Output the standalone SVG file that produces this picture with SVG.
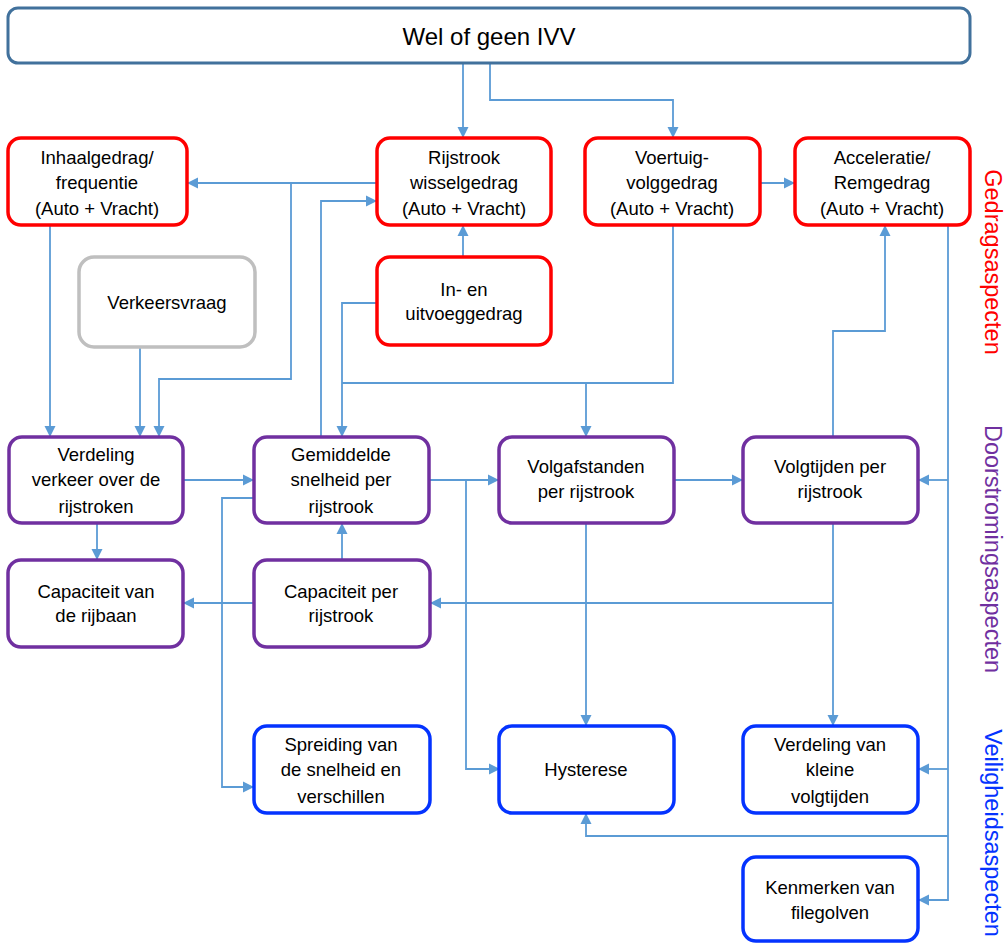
<svg xmlns="http://www.w3.org/2000/svg" width="1005" height="943" viewBox="0 0 1005 943">
<style>
.box{fill:#fff;stroke-width:3.5}
.red{stroke:#FF0000}
.pur{stroke:#7030A0}
.blu{stroke:#0433FF}
.gry{stroke:#BFBFBF}
.top{stroke:#41719C;stroke-width:3}
text{font-family:"Liberation Sans",Arial,sans-serif;font-size:18.5px;fill:#000;text-anchor:middle}
.t{font-size:24px}
.side{font-size:23.5px}
.con path{fill:none;stroke:#5B9BD5;stroke-width:1.8}
</style>
<defs>
<marker id="a" markerUnits="userSpaceOnUse" markerWidth="12" markerHeight="12" refX="11" refY="6" orient="auto">
<path d="M0,0.5 L11,6 L0,11.5 z" fill="#5B9BD5"/>
</marker>
</defs>
<rect width="1005" height="943" fill="#fff"/>

<g class="con">
<path d="M463,63 V138" marker-end="url(#a)"/>
<path d="M490,63 V100 H673 V138" marker-end="url(#a)"/>
<path d="M377,183 H187" marker-end="url(#a)"/>
<path d="M291,183 V379 H159 V437" marker-end="url(#a)"/>
<path d="M321,437 V201 H377" marker-end="url(#a)"/>
<path d="M463,257 V225" marker-end="url(#a)"/>
<path d="M377,303 H342 V437" marker-end="url(#a)"/>
<path d="M673,225 V383 H342"/>
<path d="M586,383 V437" marker-end="url(#a)"/>
<path d="M760,183 H795" marker-end="url(#a)"/>
<path d="M833,437 V331 H885 V225" marker-end="url(#a)"/>
<path d="M50,225 V437" marker-end="url(#a)"/>
<path d="M140,347 V437" marker-end="url(#a)"/>
<path d="M183,480 H254" marker-end="url(#a)"/>
<path d="M429,480 H499" marker-end="url(#a)"/>
<path d="M466,480 V769 H500" marker-end="url(#a)"/>
<path d="M254,498 H222 V787 H254" marker-end="url(#a)"/>
<path d="M674,480 H743" marker-end="url(#a)"/>
<path d="M948,225 V900 H918" marker-end="url(#a)"/>
<path d="M948,480 H918" marker-end="url(#a)"/>
<path d="M948,769 H918" marker-end="url(#a)"/>
<path d="M948,836 H586 V813" marker-end="url(#a)"/>
<path d="M586,523 V726" marker-end="url(#a)"/>
<path d="M833,523 V726" marker-end="url(#a)"/>
<path d="M833,603 H430" marker-end="url(#a)"/>
<path d="M342,560 V523" marker-end="url(#a)"/>
<path d="M254,603 H183" marker-end="url(#a)"/>
<path d="M97,523 V560" marker-end="url(#a)"/>
</g>

<g id="ivv"><rect class="box top" x="8" y="8" width="962" height="55" rx="10"/><text class="t" x="489" y="45">Wel of geen IVV</text></g>

<g id="inhaal"><rect class="box red" x="8" y="138" width="179" height="87" rx="13"/><text x="97" y="164">Inhaalgedrag/</text><text x="97" y="189">frequentie</text><text x="97" y="215">(Auto + Vracht)</text></g>
<g id="rijstrook"><rect class="box red" x="377" y="138" width="174" height="87" rx="13"/><text x="464" y="164">Rijstrook</text><text x="464" y="189">wisselgedrag</text><text x="464" y="215">(Auto + Vracht)</text></g>
<g id="voertuig"><rect class="box red" x="585" y="138" width="175" height="87" rx="13"/><text x="672" y="164">Voertuig-</text><text x="672" y="189">volggedrag</text><text x="672" y="215">(Auto + Vracht)</text></g>
<g id="accel"><rect class="box red" x="795" y="138" width="175" height="87" rx="13"/><text x="882" y="164">Acceleratie/</text><text x="882" y="189">Remgedrag</text><text x="882" y="215">(Auto + Vracht)</text></g>

<g id="verkeersvraag"><rect class="box gry" x="79" y="257" width="176" height="90" rx="15"/><text x="167" y="309">Verkeersvraag</text></g>
<g id="inuit"><rect class="box red" x="377" y="257" width="174" height="88" rx="13"/><text x="464" y="296">In- en</text><text x="464" y="320">uitvoeggedrag</text></g>

<g id="verdeling"><rect class="box pur" x="9" y="437" width="174" height="86" rx="13"/><text x="96" y="461">Verdeling</text><text x="96" y="486">verkeer  over de</text><text x="96" y="513">rijstroken</text></g>
<g id="gemiddelde"><rect class="box pur" x="254" y="437" width="175" height="86" rx="13"/><text x="341" y="461">Gemiddelde</text><text x="341" y="486">snelheid per</text><text x="341" y="513">rijstrook</text></g>
<g id="volgafstanden"><rect class="box pur" x="499" y="437" width="175" height="86" rx="13"/><text x="586" y="473">Volgafstanden</text><text x="586" y="498">per rijstrook</text></g>
<g id="volgtijden"><rect class="box pur" x="743" y="437" width="175" height="86" rx="13"/><text x="830" y="473">Volgtijden per</text><text x="830" y="498">rijstrook</text></g>

<g id="caprijbaan"><rect class="box pur" x="8" y="560" width="175" height="87" rx="13"/><text x="96" y="598">Capaciteit van</text><text x="96" y="622">de rijbaan</text></g>
<g id="capstrook"><rect class="box pur" x="254" y="560" width="176" height="87" rx="13"/><text x="341" y="598">Capaciteit per</text><text x="341" y="622">rijstrook</text></g>

<g id="spreiding"><rect class="box blu" x="254" y="726" width="176" height="87" rx="13"/><text x="341" y="751">Spreiding van</text><text x="341" y="776">de snelheid en</text><text x="341" y="803">verschillen</text></g>
<g id="hysterese"><rect class="box blu" x="499" y="726" width="175" height="87" rx="13"/><text x="586" y="776">Hysterese</text></g>
<g id="kleine"><rect class="box blu" x="743" y="726" width="175" height="87" rx="13"/><text x="830" y="751">Verdeling van</text><text x="830" y="776">kleine</text><text x="830" y="803">volgtijden</text></g>
<g id="kenmerken"><rect class="box blu" x="743" y="857" width="175" height="84" rx="13"/><text x="830" y="894">Kenmerken van</text><text x="830" y="919">filegolven</text></g>

<g id="labels">
<text class="side" style="fill:#FF0000" transform="translate(985,262) rotate(90)">Gedragsaspecten</text>
<text class="side" style="fill:#7030A0" transform="translate(985,549) rotate(90)">Doorstromingsaspecten</text>
<text class="side" style="fill:#0433FF" transform="translate(985,833) rotate(90)">Veiligheidsaspecten</text>
</g>
</svg>
